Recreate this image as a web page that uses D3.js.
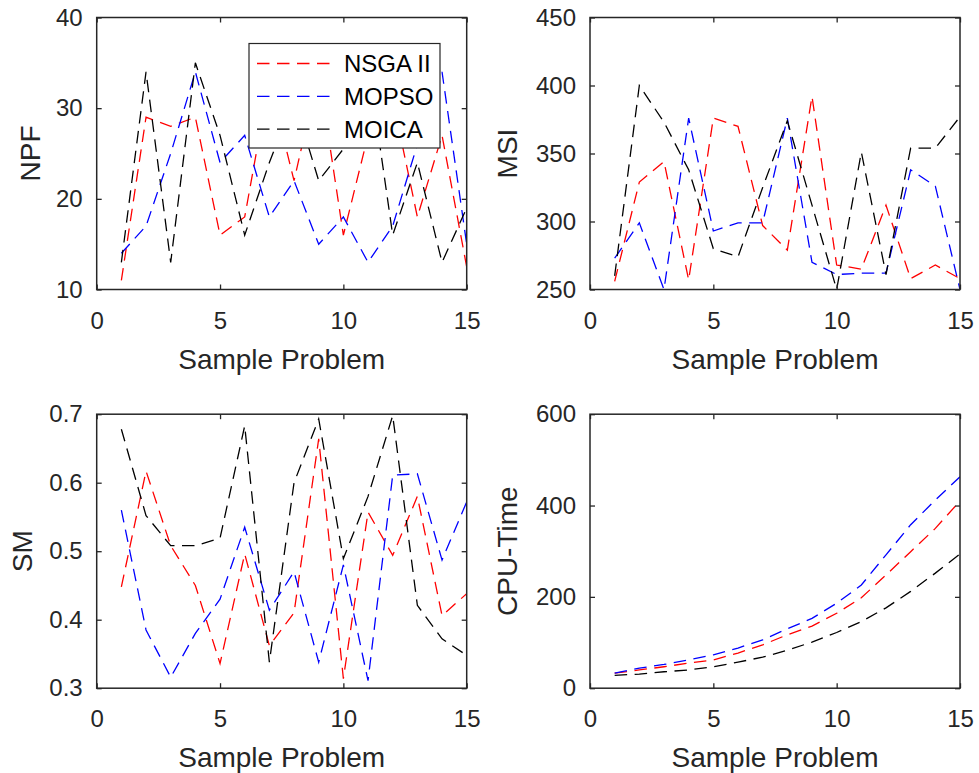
<!DOCTYPE html>
<html>
<head>
<meta charset="utf-8">
<script src="https://cdn.jsdelivr.net/npm/d3@7"></script>
<style>
  body { margin: 0; background: #fff; }
  svg { display: block; font-family: "Liberation Sans", Arial, Helvetica, sans-serif; }
  .tick text { fill: #262626; font-size: 24px; }
  .tick line { stroke: #262626; stroke-width: 1.3; }
  .axis-label { fill: #262626; font-size: 28px; }
</style>
</head>
<body>
<div class="chart"></div>
<script>
var svgWidth = 979;
var svgHeight = 773;

// data
var sampleProblem = [1, 2, 3, 4, 5, 6, 7, 8, 9, 10, 11, 12, 13, 14, 15];
var seriesNames = ["NSGA II", "MOPSO", "MOICA"];
var seriesColors = ["#ff0000", "#0000ff", "#000000"];
var xTicks = [0, 5, 10, 15];

var npfNsga = [11, 29, 28, 29, 16, 18, 33, 22, 34, 16, 27, 31, 18, 27, 12.5];
var npfMopso = [14, 17, 25, 34, 24, 27, 18, 22, 15, 18, 13, 17, 26, 34, 15];
var npfMoica = [13, 34, 13, 35, 27, 16, 24, 31, 22, 25.5, 35, 16, 24, 13, 19];
var npfTicks = [10, 20, 30, 40];

var msiNsga = [256, 329, 344, 257, 376, 370, 297, 279, 392, 268, 265, 312, 258, 268, 258];
var msiMopso = [273, 299, 250, 376, 293, 299, 299, 376, 270, 261, 262, 262, 338, 326, 250];
var msiMoica = [260, 400, 373, 338, 280, 274, 325, 374, 312, 250, 351, 261, 354, 354, 377];
var msiTicks = [250, 300, 350, 400, 450];

var smNsga = [0.448, 0.617, 0.508, 0.45, 0.336, 0.496, 0.362, 0.41, 0.664, 0.314, 0.557, 0.494, 0.58, 0.406, 0.438];
var smMopso = [0.56, 0.385, 0.316, 0.38, 0.43, 0.535, 0.414, 0.47, 0.338, 0.48, 0.311, 0.611, 0.613, 0.487, 0.572];
var smMoica = [0.678, 0.552, 0.508, 0.508, 0.519, 0.683, 0.338, 0.6, 0.693, 0.489, 0.58, 0.698, 0.421, 0.372, 0.348];
var smTicks = [0.3, 0.4, 0.5, 0.6, 0.7];

var cpuNsga = [33, 40, 47, 55, 62, 77, 95, 117, 136, 164, 198, 248, 299, 350, 410];
var cpuMopso = [33, 44, 52, 62, 73, 88, 106, 130, 153, 186, 226, 292, 358, 412, 463];
var cpuMoica = [28, 31, 36, 40, 47, 57, 68, 83, 101, 122, 146, 176, 212, 252, 294];
var cpuTicks = [0, 200, 400, 600];

var svg = d3.select(".chart")
  .append("svg")
  .attr("width", svgWidth)
  .attr("height", svgHeight);

var panels = [
  { id: "npf", box: [96.7, 17.5, 466.7, 289.5], yTicks: npfTicks, series: [npfNsga, npfMopso, npfMoica],
    label: "NPF", labelOffset: 57, fmt: d3.format("d"), legend: true },
  { id: "msi", box: [590, 17.5, 960, 289.5], yTicks: msiTicks, series: [msiNsga, msiMopso, msiMoica],
    label: "MSI", labelOffset: 73, fmt: d3.format("d") },
  { id: "sm", box: [96.7, 414.2, 466.7, 688.2], yTicks: smTicks, series: [smNsga, smMopso, smMoica],
    label: "SM", labelOffset: 65, fmt: d3.format(".1f") },
  { id: "cpu", box: [590, 414.2, 960, 688.2], yTicks: cpuTicks, series: [cpuNsga, cpuMopso, cpuMoica],
    label: "CPU-Time", labelOffset: 73, fmt: d3.format("d") }
];

function drawPanel(p) {
  var x0 = p.box[0], y0 = p.box[1], x1 = p.box[2], y1 = p.box[3];
  var w = x1 - x0, h = y1 - y0;

  var xScale = d3.scaleLinear().domain([0, 15]).range([0, w]);
  var yScale = d3.scaleLinear()
    .domain([p.yTicks[0], p.yTicks[p.yTicks.length - 1]])
    .range([h, 0]);

  var g = svg.append("g").attr("transform", `translate(${x0}, ${y0})`);

  g.append("clipPath").attr("id", "clip-" + p.id)
    .append("rect").attr("width", w).attr("height", h);

  // lines
  var line = d3.line()
    .x((d, i) => xScale(sampleProblem[i]))
    .y(d => yScale(d));

  var lines = g.append("g").attr("clip-path", `url(#clip-${p.id})`);
  p.series.forEach(function(vals, k) {
    lines.append("path")
      .datum(vals)
      .attr("d", line)
      .attr("fill", "none")
      .attr("stroke", seriesColors[k])
      .attr("stroke-width", 1.3)
      .attr("stroke-dasharray", "12.5,7.5");
  });

  // axes, ticks pointing inward on all four sides
  var bottom = g.append("g").attr("transform", `translate(0, ${h})`)
    .call(d3.axisBottom(xScale).tickValues(xTicks).tickSize(-5).tickPadding(22));
  bottom.selectAll("text").attr("dy", "0.71em");

  g.append("g")
    .call(d3.axisTop(xScale).tickValues(xTicks).tickSize(-5).tickFormat(""));

  g.append("g")
    .call(d3.axisLeft(yScale).tickValues(p.yTicks).tickSize(-5).tickPadding(14).tickFormat(p.fmt));

  g.append("g").attr("transform", `translate(${w}, 0)`)
    .call(d3.axisRight(yScale).tickValues(p.yTicks).tickSize(-5).tickFormat(""));

  g.selectAll(".domain").remove();
  g.selectAll(".tick text").attr("font-family", null).attr("font-size", null);

  g.append("rect")
    .attr("width", w)
    .attr("height", h)
    .attr("fill", "none")
    .attr("stroke", "#262626")
    .attr("stroke-width", 1.5);

  // axis labels
  g.append("text")
    .attr("class", "axis-label")
    .attr("x", w / 2)
    .attr("y", h + 79)
    .attr("text-anchor", "middle")
    .text("Sample Problem");

  g.append("text")
    .attr("class", "axis-label")
    .attr("transform", `translate(${-p.labelOffset}, ${h / 2}) rotate(-90)`)
    .attr("text-anchor", "middle")
    .text(p.label);

  if (p.legend) {
    var lg = svg.append("g").attr("transform", "translate(249, 43.5)");
    lg.append("rect")
      .attr("width", 191)
      .attr("height", 104.5)
      .attr("fill", "#fff")
      .attr("stroke", "#262626")
      .attr("stroke-width", 1.2);
    seriesNames.forEach(function(name, k) {
      var cy = 20 + k * 32.8;
      lg.append("line")
        .attr("x1", 8).attr("x2", 88)
        .attr("y1", cy).attr("y2", cy)
        .attr("stroke", seriesColors[k])
        .attr("stroke-width", 1.3)
        .attr("stroke-dasharray", "12.5,7.5");
      lg.append("text")
        .attr("x", 95)
        .attr("y", cy)
        .attr("dy", "0.35em")
        .attr("fill", "#000")
        .style("font-size", "24px")
        .text(name);
    });
  }
}

panels.forEach(drawPanel);
</script>
</body>
</html>
